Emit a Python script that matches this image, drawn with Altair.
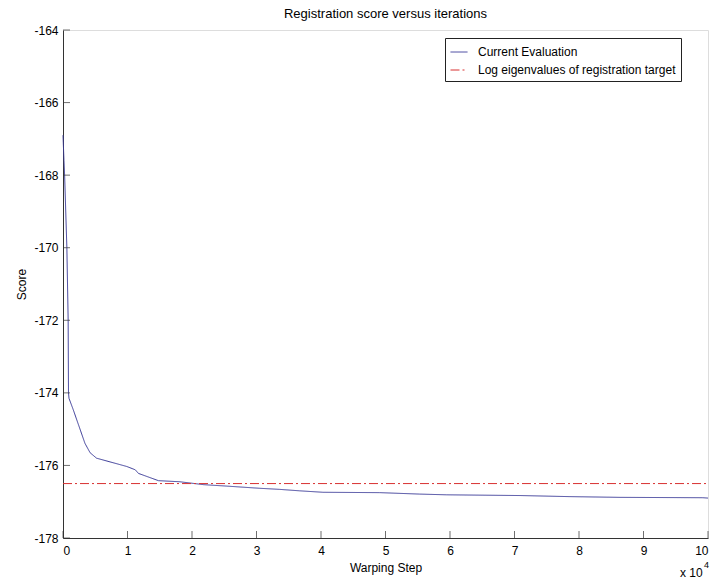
import altair as alt
import pandas as pd

# Data (x in warping steps, y = score)
steps = [0, 150, 250, 600, 800, 850, 930, 1600, 3400, 4200, 5200, 9900, 11200, 11700,
         14800, 18100, 21800, 25400, 30500, 33600, 36700, 40300, 49100, 55300, 59500,
         70900, 78600, 86400, 99200, 100000]
scores = [-166.9, -167.6, -168.0, -170.0, -172.0, -174.0, -174.15, -174.47, -175.39, -175.65,
          -175.80, -176.03, -176.12, -176.22, -176.42, -176.45, -176.53, -176.57, -176.63,
          -176.66, -176.70, -176.74, -176.75, -176.79, -176.81, -176.83, -176.86, -176.88,
          -176.89, -176.90]
target_steps = [0, 100000]
target_value = -176.5
series_names = ["Current Evaluation", "Log eigenvalues of registration target"]
x_ticks = [0, 10000, 20000, 30000, 40000, 50000, 60000, 70000, 80000, 90000, 100000]
y_ticks = [-178, -176, -174, -172, -170, -168, -166, -164]

rows = [{"step": s, "score": v, "series": series_names[0], "order": i}
        for i, (s, v) in enumerate(zip(steps, scores))]
rows += [{"step": s, "score": target_value, "series": series_names[1], "order": i}
         for i, s in enumerate(target_steps)]
df = pd.DataFrame(rows)

W, H = 645, 508
FONT = "Liberation Sans"
AXC = "#333333"

xscale = alt.Scale(domain=[0, 100000], nice=False, zero=False)
yscale = alt.Scale(domain=[-178, -164], nice=False, zero=False)

leg = alt.Legend(title=None, orient="none", legendX=382, legendY=8,
                 strokeColor="#222222", fillColor="white", padding=5,
                 symbolType="stroke", symbolSize=289, symbolStrokeWidth=1,
                 labelFontSize=12, labelFont=FONT, labelColor="black", labelLimit=0,
                 rowPadding=3, labelOffset=10, cornerRadius=0)

lines = alt.Chart(df).mark_line(strokeWidth=1).encode(
    x=alt.X("step:Q", scale=xscale,
            axis=alt.Axis(values=x_ticks, labelExpr="'' + (datum.value / 10000)",
                          title="Warping Step", orient="bottom", ticks=False, grid=False,
                          domainColor=AXC, labelPadding=7, titlePadding=6,
                          labelColor="black", titleColor="black",
                          labelFontSize=12, titleFontSize=12, titleFontWeight="normal",
                          labelFont=FONT, titleFont=FONT)),
    y=alt.Y("score:Q", scale=yscale,
            axis=alt.Axis(values=y_ticks, labelExpr="'' + datum.value", title="Score",
                          orient="left", ticks=False, grid=False,
                          domainColor=AXC, labelPadding=5, titlePadding=5,
                          labelColor="black", titleColor="black", labelFontSize=12,
                          titleFontSize=12, titleFontWeight="normal",
                          labelFont=FONT, titleFont=FONT)),
    color=alt.Color("series:N",
                    scale=alt.Scale(domain=series_names, range=["#3b3b98", "#d83030"]),
                    legend=leg),
    strokeDash=alt.StrokeDash("series:N",
                              scale=alt.Scale(domain=series_names, range=[[1, 0], [9, 3, 2, 3]]),
                              legend=leg),
    detail="series:N",
    order="order:Q",
)

# inward-pointing ticks (MATLAB style), positioned through the shared scales
xt = alt.Chart(pd.DataFrame({"t": x_ticks})).mark_tick(
    color=AXC, thickness=1, size=7, orient="vertical", yOffset=-3.5).encode(
    x=alt.X("t:Q", scale=xscale), y=alt.value(H))
yt = alt.Chart(pd.DataFrame({"t": y_ticks})).mark_tick(
    color=AXC, thickness=1, size=7, orient="horizontal", xOffset=3.5).encode(
    y=alt.Y("t:Q", scale=yscale), x=alt.value(0))

blank = alt.Data(values=[{}])
exp_text = alt.Chart(blank).mark_text(text="x 10", font=FONT, fontSize=12, align="left",
                                      baseline="middle", color="black").encode(
    x=alt.value(617), y=alt.value(543))
exp_sup = alt.Chart(blank).mark_text(text="4", font=FONT, fontSize=9, align="left",
                                     baseline="middle", color="black").encode(
    x=alt.value(641), y=alt.value(535))

chart = alt.layer(lines, xt, yt, exp_text, exp_sup).properties(
    width=W, height=H,
    title=alt.Title("Registration score versus iterations", fontSize=13, font=FONT,
                    fontWeight="normal", color="black", anchor="middle", offset=3),
    autosize=alt.AutoSizeParams(type="none"),
    padding={"left": 63, "top": 30, "right": 6, "bottom": 41},
).configure_view(stroke=None).configure(background="white")

chart.save("out.html", embed_options={"renderer": "svg", "actions": False})
